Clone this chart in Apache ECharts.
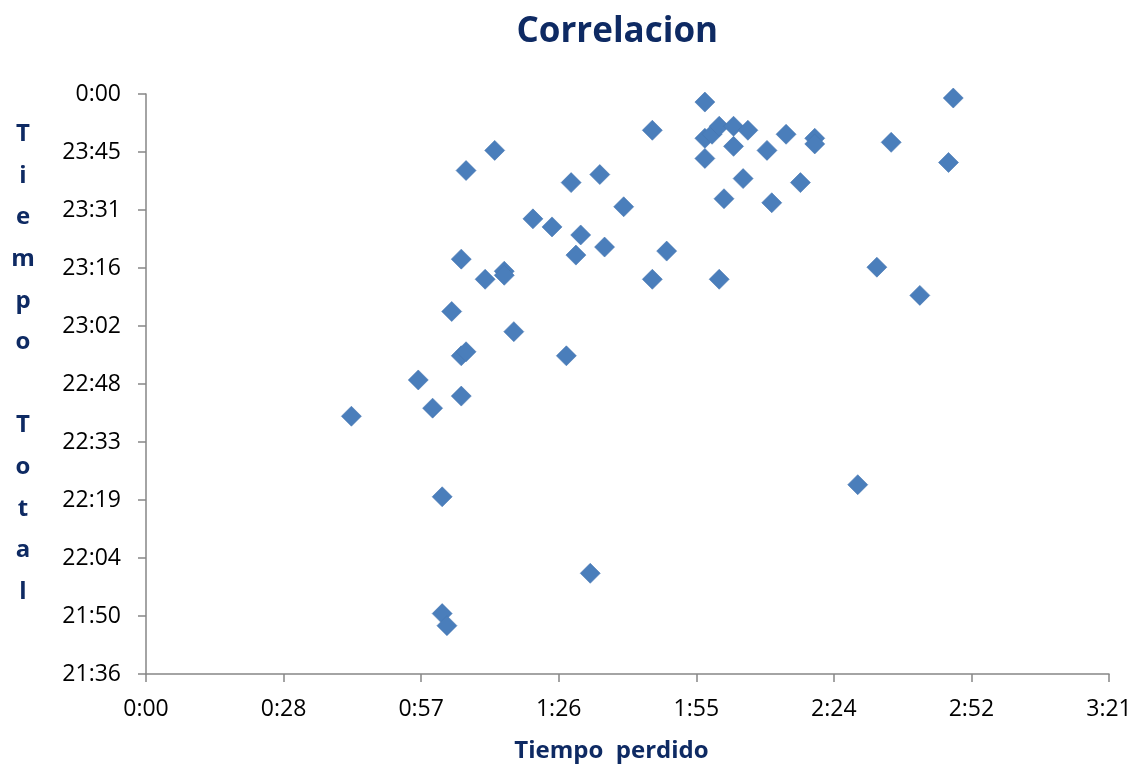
<!DOCTYPE html>
<html>
<head>
<meta charset="utf-8">
<title>Correlacion</title>
<script src="https://cdn.jsdelivr.net/npm/echarts@6/dist/echarts.min.js"></script>
<style>
  html, body { margin: 0; padding: 0; background: #ffffff; }
  #chart { width: 1136px; height: 767px; }
</style>
</head>
<body>
<div id="chart"></div>
<script>
// Tiempo perdido, in minutes
const tiempoPerdido = [
  43, 57, 60, 62, 62, 63, 64, 66, 67, 66,
  66, 67, 71, 73, 75, 75, 77, 81, 85, 88,
  89, 90, 91, 93, 95, 96, 100, 106, 106, 109,
  117, 117, 118.5, 120, 123, 126, 123, 117, 120, 121,
  125, 130, 131, 134, 137, 140, 140, 149, 153, 156,
  162, 168, 169
];

// Tiempo total, as minutes of the day (1440 = 0:00 next day)
const tiempoTotal = [
  1360, 1369, 1362, 1340, 1311, 1308, 1386, 1375, 1376, 1365,
  1399, 1421, 1394, 1426, 1396, 1395, 1381, 1409, 1407, 1375,
  1418, 1400, 1405, 1321, 1420, 1402, 1412, 1431, 1394, 1401,
  1438, 1429, 1430, 1432, 1432, 1431, 1427, 1424, 1394, 1414,
  1419, 1426, 1413, 1430, 1418, 1429, 1427.6, 1343, 1397, 1428,
  1390, 1423, 1439
];

// Axis ranges (minutes): 0.02 day steps on x, 0.01 day steps on y
const xMin = 0, xMax = 201.6, xStep = 28.8;
const yMin = 1296, yMax = 1440, yStep = 14.4;

const points = tiempoPerdido.map((x, i) => [x, tiempoTotal[i]]);

// h:mm with the minutes truncated, wrapping at midnight
function hhmm(v) {
  const t = Math.floor(Math.round(v * 1000) / 1000 + 1e-6);
  const h = Math.floor(t / 60) % 24;
  const m = t % 60;
  return h + ':' + (m < 10 ? '0' : '') + m;
}

const navy = '#0E2A63';
const axisGray = '#868686';
const labelFont = { fontFamily: 'Open Sans', fontSize: 23, color: '#000000' };

const chart = echarts.init(document.getElementById('chart'), null, { renderer: 'canvas' });

chart.setOption({
  backgroundColor: '#ffffff',
  animation: false,
  title: {
    text: 'Correlacion',
    left: '53.9%',
    textAlign: 'center',
    top: 10,
    textStyle: { fontFamily: 'Open Sans', fontWeight: 'bold', fontSize: 35, color: navy }
  },
  grid: { left: 146, right: 27, top: 94, bottom: 93, containLabel: false, outerBoundsMode: 'none' },
  xAxis: {
    type: 'value',
    min: xMin, max: xMax, interval: xStep,
    name: 'Tiempo  perdido',
    nameLocation: 'middle',
    nameGap: 65,
    nameTextStyle: { fontFamily: 'Open Sans', fontWeight: 'bold', fontSize: 24, color: navy, padding: [0, 32, 0, 0] },
    axisLine: { show: true, onZero: false, lineStyle: { color: axisGray, width: 1.5 } },
    axisTick: { show: true, inside: false, length: 8, lineStyle: { color: axisGray, width: 1.5 } },
    axisLabel: Object.assign({ margin: 24, formatter: hhmm, showMaxLabel: true, showMinLabel: true }, labelFont),
    splitLine: { show: false }
  },
  yAxis: {
    type: 'value',
    min: yMin, max: yMax, interval: yStep,
    // one letter per line; the trailing blank line lifts the stack a little
    name: 'T\ni\ne\nm\np\no\n\nT\no\nt\na\nl\n ',
    nameLocation: 'middle',
    nameRotate: 0,
    nameGap: 123,
    nameTextStyle: {
      fontFamily: 'Open Sans', fontWeight: 'bold', fontSize: 24, color: navy,
      lineHeight: 41.6, align: 'center'
    },
    axisLine: { show: true, onZero: false, lineStyle: { color: axisGray, width: 1.5 } },
    axisTick: { show: true, inside: false, length: 8, lineStyle: { color: axisGray, width: 1.5 } },
    axisLabel: Object.assign({ margin: 25, formatter: hhmm, showMaxLabel: true, showMinLabel: true }, labelFont),
    splitLine: { show: false }
  },
  series: [{
    type: 'scatter',
    symbol: 'diamond',
    symbolSize: 20,
    data: points,
    itemStyle: { color: '#4A7EBB', borderColor: '#4675B0', borderWidth: 0.6, opacity: 1 },
    emphasis: { disabled: true }
  }]
});
</script>
</body>
</html>
